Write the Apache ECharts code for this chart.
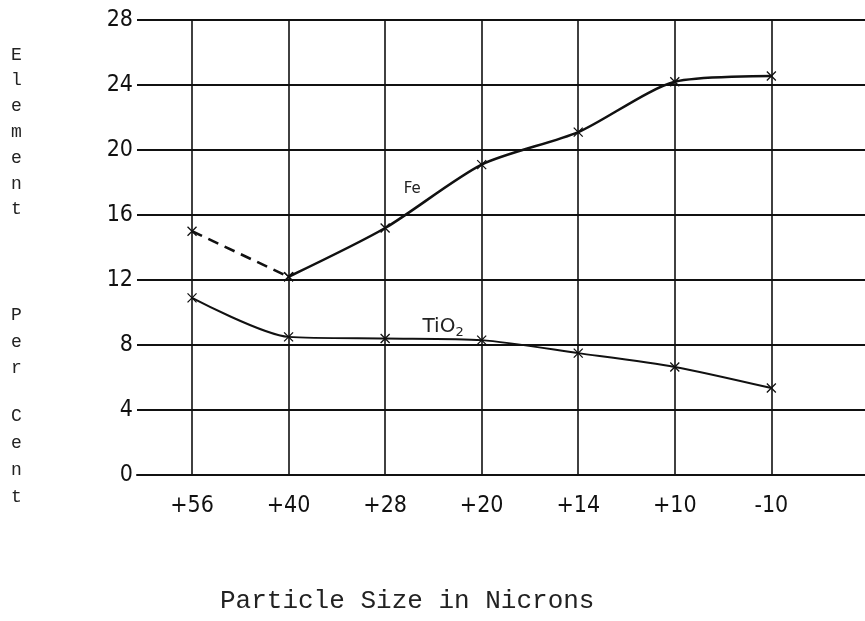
<!DOCTYPE html>
<html>
<head>
<meta charset="utf-8">
<script src="https://cdn.jsdelivr.net/npm/echarts@6/dist/echarts.min.js"></script>
<style>
html,body{margin:0;padding:0;background:#fff;}
#chart{width:865px;height:621px;}
</style>
</head>
<body>
<div id="chart"></div>
<script>
// ---- data ----
var categories = ['+56', '+40', '+28', '+20', '+14', '+10', '-10'];
var feValues = [15.0, 12.2, 15.2, 19.1, 21.1, 24.2, 24.55];
var tio2Values = [10.9, 8.5, 8.4, 8.3, 7.5, 6.65, 5.35];
var yTicks = [0, 4, 8, 12, 16, 20, 24, 28];
var xTitle = 'Particle Size in Nicrons';
var yTitleWords = ['Element', 'Per', 'Cent'];

// ---- build ----
function pts(vals, from, to) {
  var out = [];
  for (var i = from; i <= to; i++) out.push([i, vals[i]]);
  return out;
}
var crossSymbol = 'path://M0 0L10 10M10 0L0 10';
var tickFont = '"Liberation Sans Narrow","DejaVu Sans Condensed","Liberation Sans",sans-serif';
var monoFont = '"Liberation Mono","DejaVu Sans Mono",monospace';

var chart = echarts.init(document.getElementById('chart'), null, {renderer: 'canvas'});
var markerStyle = {color: 'rgba(0,0,0,0)', borderColor: '#111', borderWidth: 1.3};

function noteMark(coord, text, size, rich) {
  return {
    symbol: 'rect',
    symbolSize: 1,
    itemStyle: {color: 'rgba(0,0,0,0)'},
    silent: true,
    data: [{coord: coord, name: text}],
    label: {show: true, position: 'inside', formatter: text, color: '#222', fontSize: size,
      fontFamily: '"DejaVu Sans",sans-serif', fontWeight: 'normal', rich: rich || {}}
  };
}

var option = {
  backgroundColor: '#ffffff',
  animation: false,
  grid: {left: 137, right: 0, top: 20, bottom: 146, containLabel: false},
  xAxis: {
    type: 'value',
    min: -0.57,
    max: 6.97,
    splitNumber: 7,
    axisLine: {show: true, lineStyle: {color: '#111', width: 2}},
    axisTick: {show: false},
    axisLabel: {
      show: true,
      showMinLabel: false,
      showMaxLabel: false,
      margin: 20,
      color: '#111',
      fontFamily: tickFont,
      fontSize: 23,
      formatter: function (v) {
        var r = Math.round(v);
        if (Math.abs(v - r) > 1e-6) return '';
        return categories[r] !== undefined ? categories[r] : '';
      }
    },
    splitLine: {show: true, showMinLine: false, showMaxLine: false,
      lineStyle: {color: '#111', width: 1.6}}
  },
  yAxis: {
    type: 'value',
    min: 0,
    max: 28,
    interval: 4,
    axisLine: {show: false},
    axisTick: {show: false},
    axisLabel: {
      margin: 4,
      color: '#111',
      fontFamily: tickFont,
      fontSize: 23,
      formatter: function (v) { return yTicks.indexOf(v) >= 0 ? String(v) : ''; }
    },
    splitLine: {show: true, lineStyle: {color: '#111', width: 2}}
  },
  series: [
    {
      name: 'Fe (dashed)',
      type: 'line',
      data: pts(feValues, 0, 1),
      symbol: crossSymbol,
      symbolSize: 9,
      itemStyle: markerStyle,
      lineStyle: {color: '#111', width: 2.6, type: [11, 7]},
      z: 5
    },
    {
      name: 'Fe',
      type: 'line',
      data: pts(feValues, 1, 6),
      smooth: 0.25,
      symbol: crossSymbol,
      symbolSize: 9,
      itemStyle: markerStyle,
      lineStyle: {color: '#111', width: 2.6},
      markPoint: noteMark([2.28, 17.6], 'Fe', 15),
      z: 5
    },
    {
      name: 'TiO2',
      type: 'line',
      data: pts(tio2Values, 0, 6),
      smooth: 0.25,
      symbol: crossSymbol,
      symbolSize: 9,
      itemStyle: markerStyle,
      lineStyle: {color: '#111', width: 2},
      markPoint: noteMark([2.6, 9.1], 'TiO{s|2}', 20,
        {s: {fontSize: 13, color: '#222', padding: [10, 0, 0, 0], fontFamily: '"DejaVu Sans",sans-serif'}}),
      z: 5
    }
  ],
  graphic: [
    {type: 'text', left: 11, top: 42, style: {text: yTitleWords[0].split('').join('\n'),
      font: '18px ' + monoFont, lineHeight: 25.8, fill: '#222', align: 'center'}},
    {type: 'text', left: 11, top: 302, style: {text: yTitleWords[1].split('').join('\n'),
      font: '18px ' + monoFont, lineHeight: 26.5, fill: '#222', align: 'center'}},
    {type: 'text', left: 11, top: 403, style: {text: yTitleWords[2].split('').join('\n'),
      font: '18px ' + monoFont, lineHeight: 27, fill: '#222', align: 'center'}},
    {type: 'text', left: 220, top: 588, style: {text: xTitle,
      font: '26px ' + monoFont, fill: '#222'}}
  ]
};
chart.setOption(option);
</script>
</body>
</html>
